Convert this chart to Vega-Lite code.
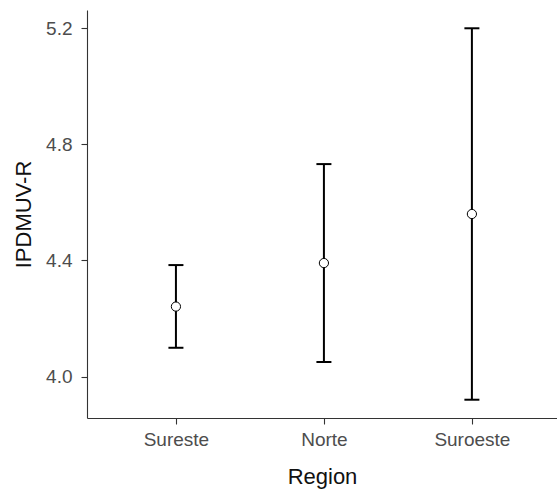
{
  "$schema": "https://vega.github.io/schema/vega-lite/v6.json",
  "autosize": {"type": "none"},
  "width": 470,
  "height": 408,
  "padding": {"left": 87, "top": 10, "right": 0, "bottom": 71},
  "background": "white",
  "config": {
    "view": {"stroke": null},
    "font": "Liberation Sans",
    "axis": {
      "grid": false,
      "domainColor": "#333333",
      "domainWidth": 1.1,
      "tickColor": "#333333",
      "tickWidth": 1.1,
      "tickSize": 6,
      "labelColor": "#4d4d4d",
      "labelFontSize": 19,
      "labelFont": "Liberation Sans",
      "titleFont": "Liberation Sans",
      "titleFontSize": 22,
      "titleFontWeight": "normal",
      "titleColor": "#111111"
    }
  },
  "data": {
    "values": [
      {"Region": "Sureste", "mean": 4.241, "lower": 4.099, "upper": 4.384},
      {"Region": "Norte", "mean": 4.391, "lower": 4.050, "upper": 4.732},
      {"Region": "Suroeste", "mean": 4.560, "lower": 3.920, "upper": 5.200}
    ]
  },
  "encoding": {
    "x": {
      "field": "Region",
      "type": "nominal",
      "sort": ["Sureste", "Norte", "Suroeste"],
      "scale": {"type": "point", "padding": 0.588, "align": 0.511},
      "axis": {
        "labelAngle": 0,
        "labelPadding": 6,
        "title": "Region",
        "titleBaseline": "alphabetic",
        "titleY": 65
      }
    }
  },
  "layer": [
    {
      "mark": {"type": "rule", "color": "black", "strokeWidth": 2},
      "encoding": {
        "y": {
          "field": "lower",
          "type": "quantitative",
          "scale": {"domain": [3.857, 5.263], "nice": false, "zero": false},
          "axis": {
            "values": [4.0, 4.4, 4.8, 5.2],
            "format": ".1f",
            "labelPadding": 9,
            "title": "IPDMUV-R",
            "titleAngle": -90,
            "titleBaseline": "alphabetic",
            "titleX": -57,
            "titleY": 204
          }
        },
        "y2": {"field": "upper"}
      }
    },
    {
      "mark": {"type": "tick", "color": "black", "size": 15, "thickness": 2, "opacity": 1},
      "encoding": {"y": {"field": "lower", "type": "quantitative"}}
    },
    {
      "mark": {"type": "tick", "color": "black", "size": 15, "thickness": 2, "opacity": 1},
      "encoding": {"y": {"field": "upper", "type": "quantitative"}}
    },
    {
      "mark": {"type": "point", "shape": "circle", "filled": true, "fill": "white", "stroke": "black", "strokeWidth": 1, "size": 85, "opacity": 1},
      "encoding": {"y": {"field": "mean", "type": "quantitative"}}
    }
  ]
}
